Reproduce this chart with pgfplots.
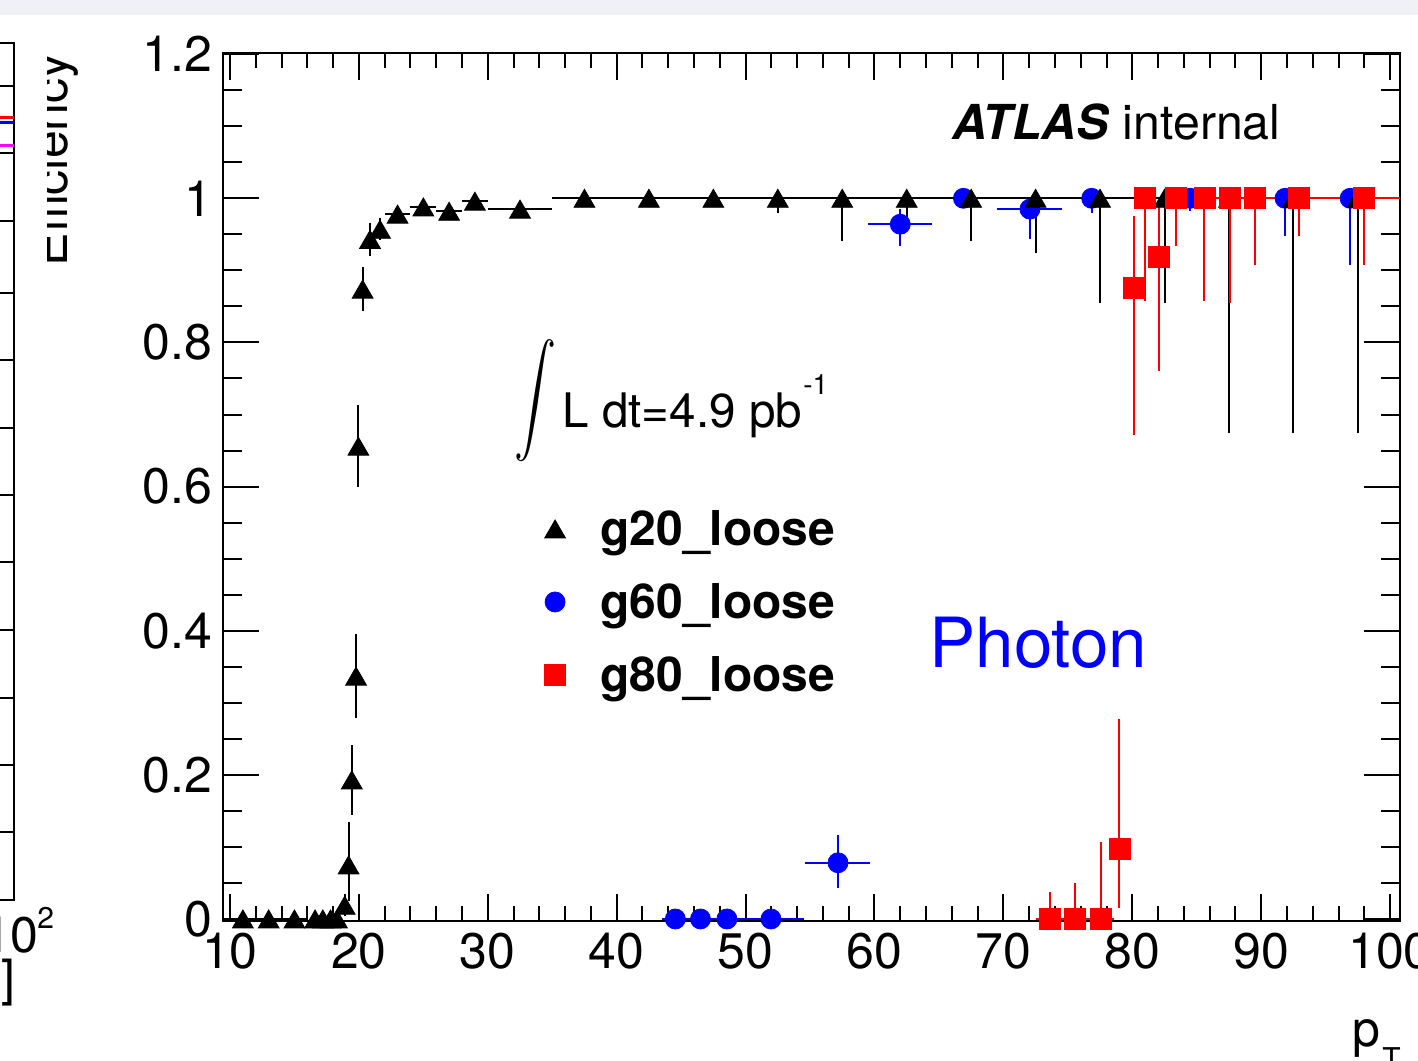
\documentclass[border=0pt]{standalone}
\usepackage{pgfplots}
\pgfplotsset{compat=1.18}
\usepackage{pgfplotstable}
\usepackage{fontspec}
\usepackage{graphicx}
\setmainfont{TeX Gyre Heros}
\definecolor{topband}{RGB}{239,241,246}
\definecolor{rootblue}{RGB}{0,0,255}
\definecolor{rootred}{RGB}{255,0,0}
\definecolor{rootmag}{RGB}{255,0,255}

\pgfplotstableread{
x y exm exp eym eyp
11 0 1 1 0 0
13 0 1 1 0 0
15 0 1 1 0 0
16.6 0 0.3 0.3 0 0
17.2 0 0.3 0.3 0 0
17.8 0 0.3 0.3 0 0
18.3 0 0.25 0.25 0 0
18.9 0.019 0 0 0.015 0.015
19.2 0.075 0 0 0.05 0.06
19.45 0.193 0 0 0.049 0.049
19.78 0.337 0 0 0.058 0.058
19.96 0.656 0 0 0.057 0.057
20.29 0.874 0 0 0.03 0.03
20.86 0.943 0 0 0.023 0.023
21.64 0.957 0 0 0.015 0.015
23 0.978 1 1 0.01 0.01
25 0.988 1 1 0.008 0.008
27 0.982 1 1 0.008 0.008
29 0.996 1 1 0.004 0.004
32.5 0.985 2.5 2.5 0.006 0.006
37.5 1 2.5 2.5 0 0
42.5 1 2.5 2.5 0 0
47.5 1 2.5 2.5 0 0
52.5 1 2.5 2.5 0.02 0
57.5 1 2.5 2.5 0.059 0
62.5 1 2.5 2.5 0.032 0
67.5 1 2.5 2.5 0.059 0
72.5 1 2.5 2.5 0.0755 0
77.5 1 2.5 2.5 0.145 0
82.5 1 2.5 2.5 0.145 0
87.5 1 2.5 2.5 0.325 0
92.5 1 2.5 2.5 0.325 0
97.5 1 2.5 2.5 0.325 0
}\gtwenty

\pgfplotstableread{
x y exm exp eym eyp
44.55 0 1.05 0.95 0 0
46.5 0 1 1 0 0
48.55 0 1.05 0.95 0 0
51.97 0 2.47 2.53 0 0
57.17 0.078 2.6 2.5 0.035 0.039
62.0 0.964 2.5 2.5 0.030 0.021
66.9 1 2.4 2.6 0.01 0
72.06 0.985 2.56 2.5 0.041 0.015
76.85 1 2.5 2.5 0.02 0
84.5 1 5 5 0.018 0
91.85 1 2.4 2.6 0.053 0
96.9 1 2.4 2.6 0.092 0
}\gsixty

\pgfplotstableread{
x y exm exp eym eyp
73.6 0 1.1 0.95 0 0.037
75.55 0 1 1 0 0.05
77.55 0 1 1 0 0.107
79.0 0.097 0.45 0.45 0.082 0.18
80.13 0.876 0.5 0.5 0.204 0.10
81.0 1 0.45 0.55 0.143 0
82.1 0.919 0.55 0.65 0.159 0.071
83.4 1 0.65 1.1 0.066 0
85.6 1 1.1 1.0 0.143 0
87.6 1 1.0 0.95 0.145 0
89.5 1 0.95 1.0 0.092 0
92.95 1 2.45 2.55 0.053 0
97.97 1 2.47 2.8 0.092 0
}\geighty

\begin{document}
\begin{tikzpicture}
\begin{scope}[x=0.5pt,y=0.5pt]
\fill[white] (0,0) rectangle (1418,1060);
\fill[topband] (0,1045) rectangle (1418,1060);

% remnants of the neighbouring panel
\draw[line width=1pt] (0,1017) -- (14,1017) -- (14,160) -- (0,160);
\foreach \yy in {86,153,221,293,360,428,495,562,630,698,765,832}
  \draw[line width=1pt] (0,1060-\yy) -- (14,1060-\yy);
\draw[rootred, line width=1.5pt] (0,942) -- (14,942);
\draw[rootblue, line width=1.5pt] (0,937) -- (14,937);
\draw[rootmag, line width=1.5pt] (0,914) -- (14,914);
\node[anchor=base east, inner sep=0pt, font=\fontsize{25}{25}\selectfont] at (39,108) {10};
\node[anchor=base west, inner sep=0pt, font=\fontsize{15}{15}\selectfont] at (37,132) {2};
\node[anchor=base east, inner sep=0pt, font=\fontsize{25}{25}\selectfont] at (16,65) {GeV]};

% y title, clipped as in the screenshot
\begin{scope}
\clip (47,0) rectangle (1418,1060);
\node[rotate=90, anchor=base east, inner sep=0pt, font=\fontsize{25}{25}\selectfont] at (67,1007) {Efficiency};
\end{scope}
\end{scope}

% axis carrying the y ticks
\begin{axis}[
  at={(111.35pt,69.5pt)}, anchor=south west,
  scale only axis, width=588.65pt, height=433.85pt,
  xmin=9.434, xmax=100.77, ymin=-0.0028, ymax=1.2012,
  xtick=\empty,
  ytick={0,0.2,0.4,0.6,0.8,1,1.2},
  minor y tick num=3,
  tick align=inside,
  major tick length=18pt, minor tick length=9.5pt,
  axis line style={line width=1pt},
  tick style={line width=1pt, black},
  /pgf/number format/assume math mode=true,
  yticklabel style={font=\fontsize{25}{25}\selectfont, inner sep=0pt, xshift=-5pt},
]
\end{axis}

% main axis with the data and x ticks
\begin{axis}[
  at={(111.35pt,69.5pt)}, anchor=south west,
  scale only axis, width=588.65pt, height=433.85pt,
  xmin=9.434, xmax=100.77, ymin=-0.0028, ymax=1.2012,
  ytick=\empty,
  xtick={10,20,30,40,50,60,70,80,90,100},
  minor x tick num=4,
  tick align=inside,
  major tick length=13.5pt, minor tick length=7.5pt,
  axis line style={line width=1pt},
  tick style={line width=1pt, black},
  clip=false,
  /pgf/number format/assume math mode=true,
  xticklabel style={font=\fontsize{25}{25}\selectfont, inner sep=0pt, yshift=-6pt},
  legend style={at={(0.2700,0.4737)}, anchor=north west, draw=none, fill=none,
    inner sep=0pt, outer sep=0pt, row sep=12.5pt, column sep=0pt,
    font=\fontsize{24}{24}\selectfont\bfseries,
    cells={anchor=base west},
    nodes={inner sep=0pt, text height=18pt, text depth=6pt}},
  legend image code/.code={\path[draw=none] (0pt,0pt) -- (30pt,0pt);
    \draw[#1] plot coordinates {(7.25pt,8.5pt)};},
  error bars/error bar style={line width=1pt},
]
\addlegendimage{only marks, mark=triangle*, black, mark size=6pt, mark options={draw=none, yshift=-1.5pt}}
\addlegendentry{g20\_loose}
\addlegendimage{only marks, mark=*, rootblue, mark size=5pt, mark options={draw=none}}
\addlegendentry{g60\_loose}
\addlegendimage{only marks, mark=square*, rootred, mark size=5.25pt, mark options={draw=none}}
\addlegendentry{g80\_loose}

\addplot[forget plot, only marks, mark=*, rootblue, mark size=5pt, mark options={draw=none},
  error bars/.cd, x dir=both, x explicit, y dir=both, y explicit, error mark=none]
  table[x=x, y=y, x error minus=exm, x error plus=exp, y error minus=eym, y error plus=eyp] {\gsixty};
\addplot[forget plot, only marks, mark=triangle*, black, mark size=6pt, mark options={draw=none, yshift=-1.5pt},
  error bars/.cd, x dir=both, x explicit, y dir=both, y explicit, error mark=none]
  table[x=x, y=y, x error minus=exm, x error plus=exp, y error minus=eym, y error plus=eyp] {\gtwenty};
\addplot[forget plot, only marks, mark=square*, rootred, mark size=5.25pt, mark options={draw=none},
  error bars/.cd, x dir=both, x explicit, y dir=both, y explicit, error mark=none]
  table[x=x, y=y, x error minus=exm, x error plus=exp, y error minus=eym, y error plus=eyp] {\geighty};
\end{axis}

% texts on the frame
\begin{scope}[x=0.5pt,y=0.5pt]
\node[anchor=base west, inner sep=0pt, font=\fontsize{24.1}{24.1}\selectfont] at (952,920) {\textbf{\textit{ATLAS}} internal};
\node[inner sep=0pt] at (535,659) {\scalebox{2.1}[2.75]{$\displaystyle\int$}};
\node[anchor=base west, inner sep=0pt, font=\fontsize{23.8}{23.8}\selectfont] at (562,632) {L dt=4.9 pb};
\node[anchor=base west, inner sep=0pt, font=\fontsize{14}{14}\selectfont] at (803,665) {-1};
\node[anchor=base west, inner sep=0pt, text=rootblue, font=\fontsize{34.6}{34.6}\selectfont] at (929,392) {Photon};
\node[anchor=base west, inner sep=0pt, font=\fontsize{25}{25}\selectfont] at (1352,14) {p};
\node[anchor=north west, inner sep=0pt, font=\fontsize{15}{15}\selectfont] at (1382,13) {T};
\end{scope}
\pgfresetboundingbox
\useasboundingbox (0,0) rectangle (709pt,530pt);
\end{tikzpicture}
\end{document}
